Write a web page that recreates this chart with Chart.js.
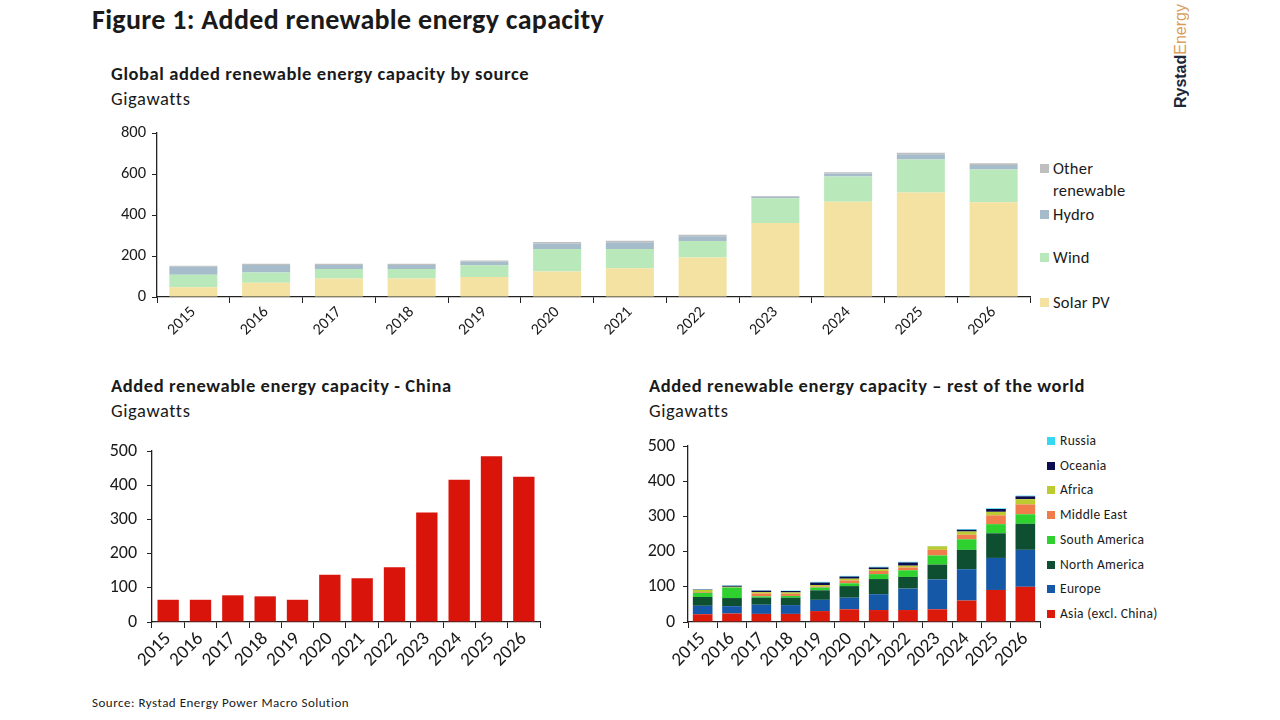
<!DOCTYPE html>
<html>
<head>
<meta charset="utf-8">
<script src="https://cdn.jsdelivr.net/npm/chart.js@4.4.1/dist/chart.umd.min.js"></script>
<style>
  body { margin: 0; width: 1280px; height: 720px; background: #fff; position: relative; overflow: hidden;
         font-family: Carlito, Lato, "Open Sans", sans-serif; color: #1a1a1a; }
  .abs { position: absolute; white-space: nowrap; }
  .title { left: 92px; top: 2px; font-size: 28px; font-weight: bold; letter-spacing: 0.3px; }
  .sub { font-size: 18.5px; font-weight: bold; letter-spacing: 0.6px; }
  .unit { font-size: 18.5px; letter-spacing: 0.6px; }
  .box { position: absolute; }
  .leg { position: absolute; font-size: 16.5px; line-height: 22px; letter-spacing: 0.2px; }
  .leg i { display: inline-block; width: 9px; height: 9px; margin-right: 4px; vertical-align: 1px; }
  .leg2 { position: absolute; font-size: 13.5px; letter-spacing: 0.3px; }
  .leg2 i { display: inline-block; width: 8px; height: 8px; margin-right: 5px; vertical-align: 0px; }
  .logo { left: 1172px; top: 4px; writing-mode: vertical-rl; transform: rotate(180deg); font-family: "Liberation Sans", Arial, sans-serif; font-size: 16px; }
  .src { left: 92px; top: 695px; font-size: 13px; letter-spacing: 0.5px; }
</style>
</head>
<body>
<div class="abs title">Figure 1: Added renewable energy capacity</div>
<div class="abs logo"><b style="color:#1d2738">Rystad</b><span style="color:#d99d5a">Energy</span></div>

<div class="abs sub" style="left:111px;top:62px">Global added renewable energy capacity by source</div>
<div class="abs unit" style="left:111px;top:87px">Gigawatts</div>
<div class="box" style="left:100px;top:120px;width:935px;height:240px"><canvas id="top"></canvas></div>
<div id="legTop"></div>

<div class="abs sub" style="left:111px;top:374px">Added renewable energy capacity - China</div>
<div class="abs unit" style="left:111px;top:399px">Gigawatts</div>
<div class="box" style="left:100px;top:440px;width:445px;height:245px"><canvas id="china"></canvas></div>

<div class="abs sub" style="left:649px;top:374px">Added renewable energy capacity – rest of the world</div>
<div class="abs unit" style="left:649px;top:399px">Gigawatts</div>
<div class="box" style="left:640px;top:435px;width:405px;height:250px"><canvas id="row"></canvas></div>
<div id="legRow"></div>

<div class="abs src">Source: Rystad Energy Power Macro Solution</div>

<script>
var years = ['2015','2016','2017','2018','2019','2020','2021','2022','2023','2024','2025','2026'];

// global additions by source, GW
var solarPV = [47, 69, 90, 90, 98, 124, 140, 193, 361, 465, 510, 462];
var wind    = [62, 50, 47, 47, 57, 110, 94, 80, 121, 123, 161, 160];
var hydro   = [38, 37, 19, 19, 17, 27, 33, 23, 7, 15, 25, 22];
var otherRe = [6, 6, 6, 6, 6, 7, 7, 8, 4, 6, 8, 8];

// China additions, GW
var china = [65, 65, 78, 75, 65, 138, 128, 160, 320, 416, 485, 425];

// rest of the world by region, GW
var asiaExCn   = [22, 24, 23, 23, 31, 36, 34, 34, 36, 61, 91, 100];
var europe     = [24, 21, 26, 25, 32, 33, 45, 61, 85, 89, 91, 105];
var northAm    = [25, 23, 20, 21, 27, 33, 43, 33, 42, 55, 70, 74];
var southAm    = [12, 30, 4, 5, 8, 8, 14, 19, 26, 30, 26, 27];
var middleEast = [2, 1, 8, 6, 3, 8, 9, 8, 16, 13, 25, 28];
var africa     = [6, 1, 4, 4, 4, 5, 5, 5, 10, 9, 10, 15];
var oceania    = [1, 3, 4, 4, 7, 6, 5, 9, 0, 5, 8, 8];
var russia     = [1, 1, 1, 1, 2, 2, 2, 2, 1, 2, 2, 2];

var txt = '#1a1a1a';
var fontFam = 'Carlito, Lato, "Open Sans", sans-serif';

function axes(yMax, step, yWidth, xHeight, tickSize, xSize, yPad) {
  return {
    x: {
      stacked: true,
      grid: { drawOnChartArea: false, color: '#222', tickLength: 6 },
      border: { color: '#222', width: 1.3 },
      ticks: { color: txt, font: { family: fontFam, size: xSize }, minRotation: 45, maxRotation: 45, padding: 0, autoSkip: false },
      afterFit: function(s) { s.height = xHeight; }
    },
    y: {
      stacked: true, min: 0, max: yMax,
      grid: { drawOnChartArea: false, color: '#222', tickLength: 5 },
      border: { color: '#222', width: 1.3 },
      ticks: { stepSize: step, color: txt, font: { family: fontFam, size: tickSize }, padding: yPad },
      // fixed axis width; let layout.padding alone decide where the top tick sits
      afterFit: function(s) { s.width = yWidth; s.paddingTop = 0; }
    }
  };
}

function baseOptions(padTop, scales) {
  return {
    responsive: true,
    maintainAspectRatio: false,
    animation: false,
    layout: { autoPadding: false, padding: { top: padTop, right: 5, left: 0, bottom: 0 } },
    plugins: { legend: { display: false }, tooltip: { enabled: false } },
    scales: scales
  };
}

function ds(label, data, color, pct) {
  return { label: label, data: data, backgroundColor: color, borderWidth: 0, categoryPercentage: 1, barPercentage: pct };
}

var topSeries = [
  ['Solar PV', solarPV, '#f3e2a2'],
  ['Wind', wind, '#b9e8bb'],
  ['Hydro', hydro, '#a7bccb'],
  ['Other renewable', otherRe, '#bfbfbf']
];

new Chart(document.getElementById('top'), {
  type: 'bar',
  data: { labels: years, datasets: topSeries.map(function(s) { return ds(s[0], s[1], s[2], 0.66); }) },
  options: baseOptions(13, axes(800, 200, 57, 63, 16.5, 16, 6))
});

new Chart(document.getElementById('china'), {
  type: 'bar',
  data: { labels: years, datasets: [ds('China', china, '#d9140b', 0.66)] },
  options: baseOptions(11, axes(500, 100, 52, 63, 18, 19, 10))
});

var rowSeries = [
  ['Asia (excl. China)', asiaExCn, '#dc1a0c'],
  ['Europe', europe, '#1558a8'],
  ['North America', northAm, '#0d4f30'],
  ['South America', southAm, '#2fd12f'],
  ['Middle East', middleEast, '#f07c4c'],
  ['Africa', africa, '#bccb2f'],
  ['Oceania', oceania, '#0c0c50'],
  ['Russia', russia, '#35d8f2']
];

new Chart(document.getElementById('row'), {
  type: 'bar',
  data: { labels: years, datasets: rowSeries.map(function(s) { return ds(s[0], s[1], s[2], 0.67); }) },
  options: baseOptions(11, axes(500, 100, 48, 63, 18, 19, 8))
});

// legends, laid out like the spreadsheet originals
var legTop = document.getElementById('legTop');
var topLegY = { 'Other renewable': 157, 'Hydro': 203, 'Wind': 246, 'Solar PV': 291 };
topSeries.forEach(function(s) {
  var d = document.createElement('div');
  d.className = 'leg';
  d.style.left = '1040px';
  d.style.top = topLegY[s[0]] + 'px';
  var name = s[0] === 'Other renewable' ? 'Other<br><span style="margin-left:13px">renewable</span>' : s[0];
  d.innerHTML = '<i style="background:' + s[2] + '"></i>' + name;
  legTop.appendChild(d);
});

var legRow = document.getElementById('legRow');
rowSeries.slice().reverse().forEach(function(s, i) {
  var d = document.createElement('div');
  d.className = 'leg2';
  d.style.left = '1047px';
  d.style.top = (432 + i * 24.7) + 'px';
  d.innerHTML = '<i style="background:' + s[2] + '"></i>' + s[0];
  legRow.appendChild(d);
});
</script>
</body>
</html>
